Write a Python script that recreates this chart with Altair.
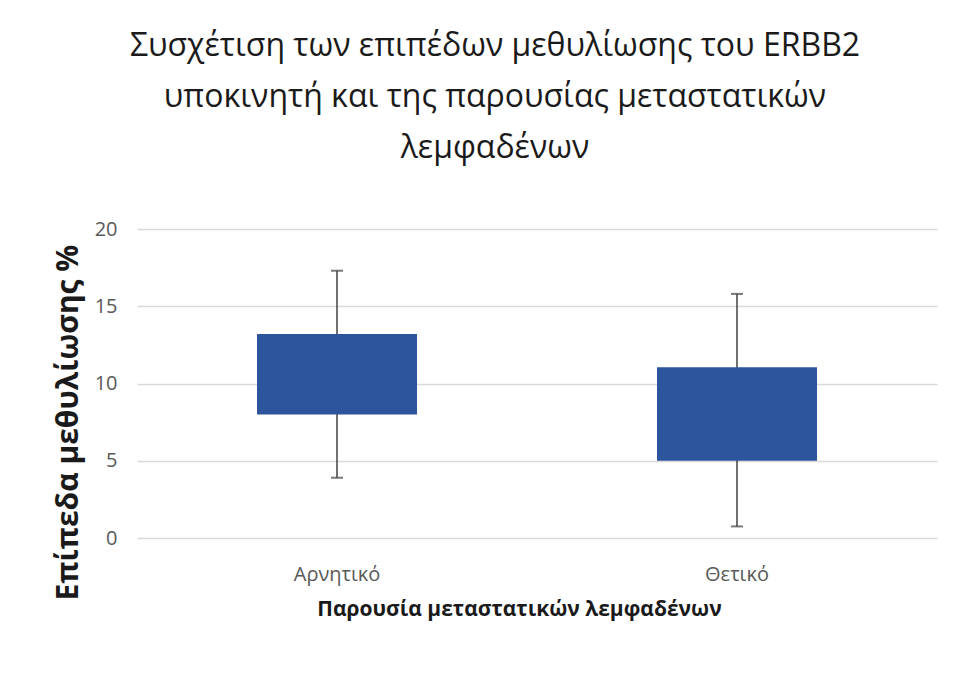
import altair as alt
import pandas as pd

categories = ["Αρνητικό", "Θετικό"]
q1 = [8.0, 5.0]
q3 = [13.2, 11.05]
whisker_low = [3.9, 0.75]
whisker_high = [17.3, 15.8]

df = pd.DataFrame({
    "cat": categories,
    "q1": q1,
    "q3": q3,
    "lo": whisker_low,
    "hi": whisker_high,
})

FONT = "Open Sans, sans-serif"

x = alt.X("cat:N", sort=categories,
          scale=alt.Scale(paddingInner=0, paddingOuter=0),
          axis=alt.Axis(title="Παρουσία μεταστατικών λεμφαδένων", labelAngle=0,
                        labelFontSize=20, labelColor="#595959", labelFont=FONT,
                        titleFontSize=21, titleFont=FONT, titleFontWeight="bold",
                        titleColor="#1a1a1a", labelPadding=26, titlePadding=14,
                        titleX=382,
                        ticks=False, domain=False, grid=False))
yscale = alt.Scale(domain=[0, 20], nice=False)
yaxis = alt.Axis(title="Επίπεδα μεθυλίωσης %", values=[0, 5, 10, 15, 20],
                 labelFontSize=20, labelColor="#595959", labelFont=FONT,
                 titleFontSize=30, titleFont=FONT, titleFontWeight="bold",
                 titleColor="#1a1a1a", labelPadding=20,
                 titleX=-69, titleY=193, titleAngle=270, titleAlign="center",
                 titleBaseline="middle",
                 ticks=False, domain=False, gridColor="#d9d9d9", gridWidth=1.5)

base = alt.Chart(df)

whisk = base.mark_rule(color="#404040", strokeWidth=1.5).encode(
    x=x, y=alt.Y("lo:Q", scale=yscale, axis=yaxis), y2="hi:Q")
caps_hi = base.mark_tick(color="#404040", size=12, thickness=2).encode(
    x=x, y=alt.Y("hi:Q", scale=yscale))
caps_lo = base.mark_tick(color="#404040", size=12, thickness=2).encode(
    x=x, y=alt.Y("lo:Q", scale=yscale))
box = base.mark_bar(color="#2D559E", size=160).encode(
    x=x, y=alt.Y("q1:Q", scale=yscale), y2="q3:Q")

chart = alt.layer(whisk, caps_hi, caps_lo, box).properties(
    width=800, height=309,
    autosize=alt.AutoSizeParams(type="none"),
    padding={"left": 129, "top": 221, "right": 10, "bottom": 120},
    title=alt.Title(
        ["Συσχέτιση των επιπέδων μεθυλίωσης του ERBB2",
         "υποκινητή και της παρουσίας μεταστατικών",
         "λεμφαδένων"],
        fontSize=32, font=FONT, fontWeight="normal", color="#1a1a1a",
        anchor="middle", frame="bounds", lineHeight=51, offset=54),
).configure(background="white").configure_view(stroke=None, strokeWidth=0)

chart.save("out.html", embed_options={"renderer": "svg", "actions": False})
